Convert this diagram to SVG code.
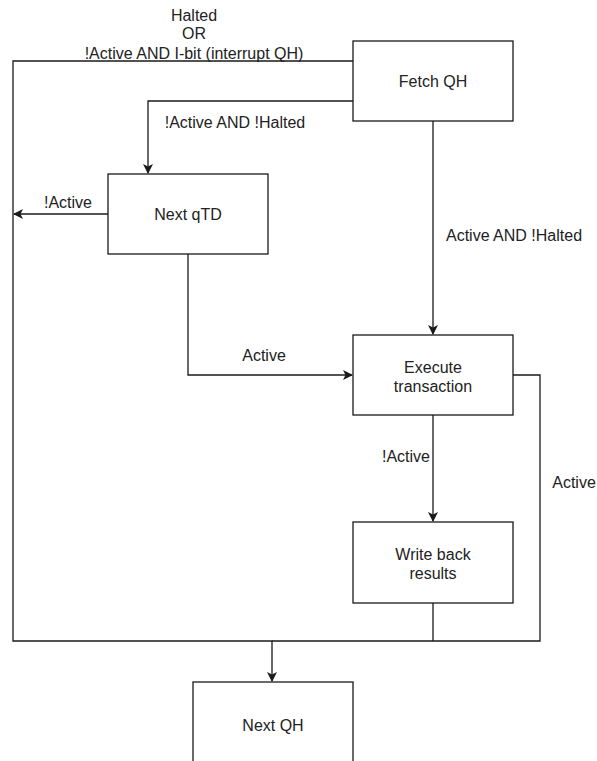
<svg xmlns="http://www.w3.org/2000/svg" width="597" height="761" viewBox="0 0 597 761">
  <style>
    .box { fill: #ffffff; stroke: #1a1a1a; stroke-width: 1.3; }
    .edge { fill: none; stroke: #1a1a1a; stroke-width: 1.3; }
    .arr { marker-end: url(#arrow); }
    text { font-family: "Liberation Sans", Arial, sans-serif; font-size: 16px; fill: #222222; text-anchor: middle; dominant-baseline: central; }
  </style>
  <defs>
    <marker id="arrow" viewBox="0 0 10 10" refX="9" refY="5" markerWidth="10" markerHeight="10" markerUnits="userSpaceOnUse" orient="auto">
      <path d="M0,0 L10,5 L0,10 L2.5,5 Z" fill="#1a1a1a"/>
    </marker>
  </defs>
  <rect width="597" height="761" fill="#ffffff"/>

  <g id="connectors">
    <!-- Fetch QH -> Next QH (halted / interrupt) -->
    <path class="edge arr" d="M353,61 H13 V641 H272 V681"/>
    <!-- Fetch QH -> Next qTD -->
    <path class="edge arr" d="M353,101 H148 V173"/>
    <!-- Next qTD -> left loop (!Active) -->
    <path class="edge arr" d="M108,214 H14"/>
    <!-- Next qTD -> Execute (Active) -->
    <path class="edge arr" d="M188,254 V375 H352"/>
    <!-- Fetch QH -> Execute -->
    <path class="edge arr" d="M433,121 V334"/>
    <!-- Execute -> Write back (!Active) -->
    <path class="edge arr" d="M433,415 V521"/>
    <!-- Execute -> bottom (Active) -->
    <path class="edge" d="M513,375 H540 V641 H272"/>
    <!-- Write back -> bottom -->
    <path class="edge" d="M433,603 V641"/>

    <text x="194" y="15">Halted</text>
    <text x="194" y="33">OR</text>
    <text x="194" y="53">!Active AND I-bit (interrupt QH)</text>
    <text x="235" y="122">!Active AND !Halted</text>
    <text x="68" y="202">!Active</text>
    <text x="514" y="235">Active AND !Halted</text>
    <text x="264" y="355">Active</text>
    <text x="406" y="456">!Active</text>
    <text x="574" y="482">Active</text>
  </g>

  <g id="fetch-qh">
    <rect class="box" x="353" y="41" width="160" height="80"/>
    <text x="433" y="81">Fetch QH</text>
  </g>
  <g id="next-qtd">
    <rect class="box" x="108" y="174" width="160" height="80"/>
    <text x="188" y="214">Next qTD</text>
  </g>
  <g id="execute-transaction">
    <rect class="box" x="353" y="335" width="160" height="80"/>
    <text x="433" y="367">Execute</text>
    <text x="433" y="386">transaction</text>
  </g>
  <g id="write-back-results">
    <rect class="box" x="353" y="522" width="160" height="81"/>
    <text x="433" y="554">Write back</text>
    <text x="433" y="573">results</text>
  </g>
  <g id="next-qh">
    <rect class="box" x="193" y="682" width="160" height="80"/>
    <text x="273" y="725">Next QH</text>
  </g>
</svg>
